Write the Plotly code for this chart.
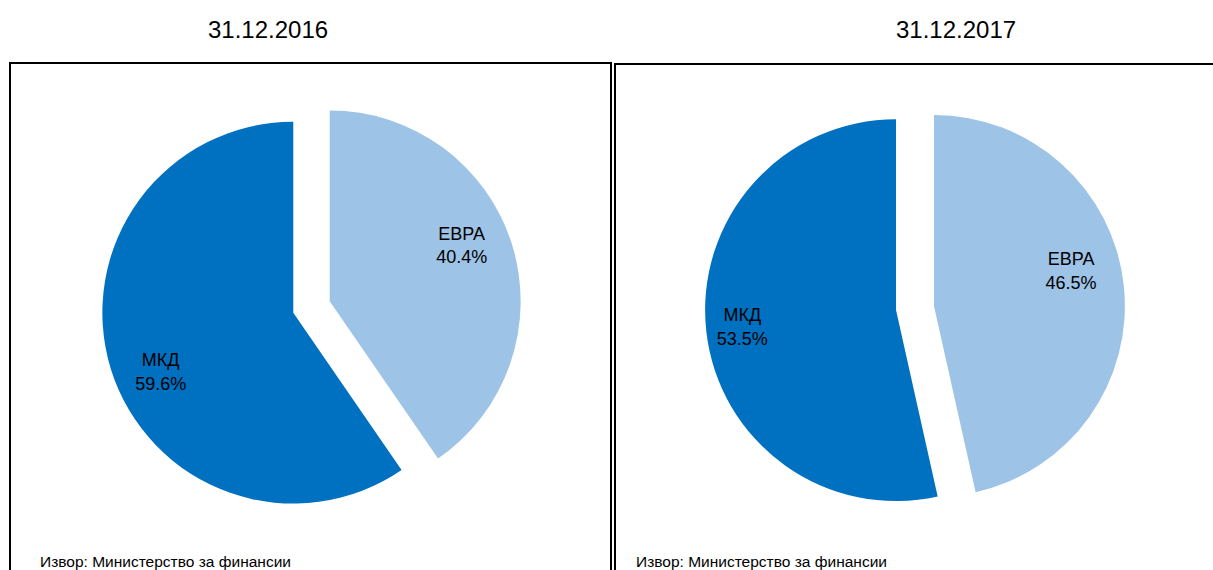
import plotly.graph_objects as go

W, H = 1213, 570

# slice order: first slice is drawn clockwise from 12 o'clock
labels = ["ЕВРА", "МКД"]
values_2016 = [40.4, 59.6]
values_2017 = [46.5, 53.5]
titles = ["31.12.2016", "31.12.2017"]
source_text = "Извор: Министерство за финансии"
colors = ["#9DC3E6", "#0070C0"]

FONT = "Liberation Sans, Arial, sans-serif"


def px(x):
    return x / W


def py(y):
    return 1 - y / H


def pie_domain(cx, cy, R):
    return dict(x=[px(cx - R), px(cx + R)], y=[py(cy + R), py(cy - R)])


# per pie: centre, and per-slice label placement (angular shift in degrees, ring hole)
pies = [
    dict(values=values_2016, center=(311.5, 307), shift=[-5, -6], hole=[0.5, 0.52]),
    dict(values=values_2017, center=(915, 308), shift=[-7, 0], hole=[0.48, 0.62]),
]

fig = go.Figure()
for p in pies:
    vals = p["values"]
    cx, cy = p["center"]
    dom = pie_domain(cx, cy, 210)
    # filled slices
    fig.add_trace(go.Pie(
        labels=labels,
        values=vals,
        sort=False,
        direction="clockwise",
        rotation=0,
        pull=[0.1, 0.1],
        marker=dict(colors=colors, line=dict(width=0)),
        textinfo="none",
        hoverinfo="label+value",
        showlegend=False,
        domain=dom,
    ))
    # transparent rings carrying each slice label
    for i in range(len(labels)):
        tmpl = ["%{label}<br>%{value:.1f}%" if j == i else " " for j in range(len(labels))]
        fig.add_trace(go.Pie(
            labels=labels,
            values=vals,
            sort=False,
            direction="clockwise",
            rotation=p["shift"][i],
            pull=[0.1, 0.1],
            hole=p["hole"][i],
            marker=dict(colors=["rgba(0,0,0,0)"] * len(labels), line=dict(width=0)),
            texttemplate=tmpl,
            textposition="inside",
            insidetextorientation="horizontal",
            textfont=dict(family=FONT, size=18, color="#000000"),
            hoverinfo="skip",
            showlegend=False,
            domain=dom,
        ))

shapes = [
    dict(type="rect", xref="paper", yref="paper",
         x0=px(10), x1=px(611), y0=py(600), y1=py(63),
         line=dict(color="#000000", width=2), fillcolor="rgba(0,0,0,0)"),
    dict(type="rect", xref="paper", yref="paper",
         x0=px(615), x1=px(1240), y0=py(600), y1=py(64),
         line=dict(color="#000000", width=2), fillcolor="rgba(0,0,0,0)"),
]

annotations = [
    dict(text=titles[0], x=px(268), y=py(30), xref="paper", yref="paper",
         showarrow=False, xanchor="center", yanchor="middle",
         font=dict(family=FONT, size=24, color="#000000")),
    dict(text=titles[1], x=px(956), y=py(30), xref="paper", yref="paper",
         showarrow=False, xanchor="center", yanchor="middle",
         font=dict(family=FONT, size=24, color="#000000")),
    dict(text=source_text, x=px(38), y=py(561), xref="paper", yref="paper",
         showarrow=False, xanchor="left", yanchor="middle",
         font=dict(family=FONT, size=15.5, color="#000000")),
    dict(text=source_text, x=px(634), y=py(561), xref="paper", yref="paper",
         showarrow=False, xanchor="left", yanchor="middle",
         font=dict(family=FONT, size=15.5, color="#000000")),
]

fig.update_layout(
    width=W, height=H,
    margin=dict(l=0, r=0, t=0, b=0),
    paper_bgcolor="#FFFFFF",
    plot_bgcolor="#FFFFFF",
    shapes=shapes,
    annotations=annotations,
)

fig.write_html(
    "out.html",
    config={"displayModeBar": False},
    post_script="document.body.style.margin='0';document.body.style.overflow='hidden';",
)
